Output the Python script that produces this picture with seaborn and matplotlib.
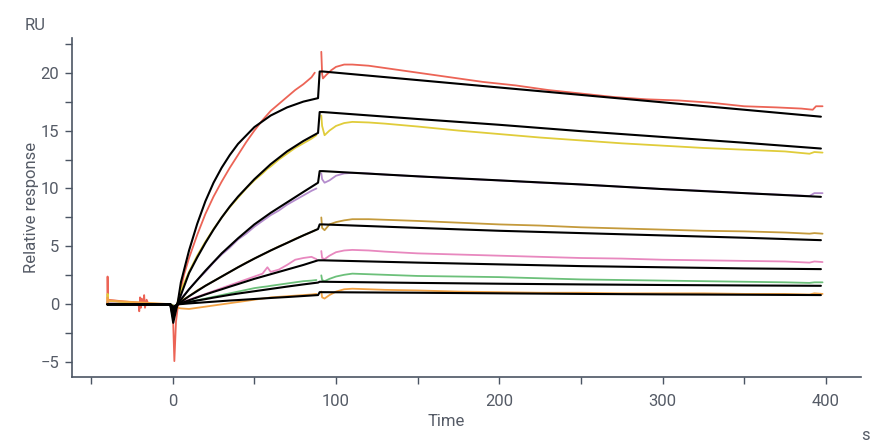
import numpy as np
import pandas as pd
import matplotlib
matplotlib.use("Agg")
import matplotlib.pyplot as plt
from matplotlib.ticker import MultipleLocator, FixedLocator
import seaborn as sns

# measured curves (time in s, response in RU); NaN marks the break at end of injection
t_red = [-40, -39.9, -39.7, -30, -21, -20.5, -20, -19.5, -19, -18, -17.5, -17, -16, -15, -10,
         -2, 0, 1, 2, 4, 7, 10, 15, 20, 25, 30, 35, 40, 45, 50, 55, 60, 65, 70, 75, 80, 85, 87,
         89, 91, 91.5, 92, 94, 97, 100, 105, 110, 120, 130, 150, 170, 190, 210, 230, 250, 270,
         290, 310, 330, 350, 370, 385, 392, 394, 398]
red = [0, 2.4, 0.4, 0.25, 0.15, -0.6, 0.6, -0.3, 0.5, 0.1, 0.8, -0.3, 0.4, 0.05, 0.0,
       0.0, -0.3, -4.9, -1.5, 0.8, 2.6, 4.0, 6.0, 7.8, 9.3, 10.6, 11.8, 12.9, 14.0, 15.0, 15.9,
       16.7, 17.3, 17.9, 18.5, 19.0, 19.6, 20.0,
       np.nan, 21.8, 19.9, 19.5, 19.8, 20.2, 20.5, 20.7, 20.7, 20.6, 20.4, 20.0, 19.6, 19.2,
       18.9, 18.5, 18.2, 17.9, 17.7, 17.6, 17.4, 17.1, 17.0, 16.9, 16.8, 17.1, 17.1]

t_data = [-40, -39.9, -39.7, -30, -2, 0, 1, 3, 5, 10,
          15, 20, 25, 30, 35, 40, 45, 50, 55, 58,
          60, 65, 70, 75, 80, 85, 88, 89, 91, 91.5,
          93, 96, 100, 105, 110, 120, 130, 150, 175, 200,
          225, 250, 275, 300, 325, 350, 375, 390, 393, 398]
yellow = [0, 0.9, 0.3, 0.15, 0, -0.2, -0.8, 0.2, 1.2, 2.8,
          4.2, 5.4, 6.5, 7.5, 8.4, 9.2, 10.0, 10.7, 11.3, 11.7,
          11.9, 12.5, 13.0, 13.5, 13.9, 14.3, 14.6, np.nan, 16.3, 15.4,
          14.6, 15.0, 15.4, 15.65, 15.75, 15.7, 15.6, 15.35, 15.0, 14.7,
          14.4, 14.15, 13.9, 13.7, 13.5, 13.35, 13.2, 13.0, 13.15, 13.1]
purple = [0, 0.3, 0.1, 0.05, 0, -0.1, -0.5, 0.1, 0.5, 1.3,
          2.1, 2.8, 3.6, 4.3, 4.9, 5.6, 6.1, 6.7, 7.2, 7.5,
          7.7, 8.1, 8.6, 9.0, 9.4, 9.8, 10.0, np.nan, 11.3, 10.8,
          10.5, 10.7, 11.1, 11.3, 11.35, 11.3, 11.2, 11.05, 10.85, 10.7,
          10.5, 10.35, 10.15, 9.95, 9.8, 9.6, 9.45, 9.35, 9.6, 9.6]
olive = [0, 0.2, 0.05, 0.02, 0, -0.1, -0.3, 0.05, 0.3, 0.7,
         1.2, 1.6, 2.0, 2.4, 2.8, 3.2, 3.6, 3.95, 4.3, 4.5,
         4.65, 5.0, 5.3, 5.65, 5.95, 6.25, 6.45, np.nan, 7.5, 6.6,
         6.4, 6.9, 7.1, 7.25, 7.35, 7.35, 7.3, 7.2, 7.05, 6.9,
         6.8, 6.65, 6.55, 6.45, 6.35, 6.3, 6.2, 6.1, 6.15, 6.1]
pink = [0, 0.1, 0.05, 0, 0, -0.1, -0.3, 0, 0.15, 0.4,
        0.65, 0.9, 1.15, 1.4, 1.65, 1.9, 2.15, 2.4, 2.65, 3.2,
        2.8, 3.0, 3.4, 3.85, 4.0, 4.1, 3.9, np.nan, 4.6, 4.0,
        3.9, 4.2, 4.5, 4.65, 4.7, 4.65, 4.55, 4.4, 4.3, 4.2,
        4.1, 4.0, 3.95, 3.85, 3.8, 3.75, 3.7, 3.6, 3.7, 3.65]
green = [0, 0.05, 0, 0, 0, -0.05, -0.2, 0, 0.05, 0.2,
         0.35, 0.5, 0.65, 0.8, 0.95, 1.1, 1.25, 1.4, 1.5, 1.55,
         1.6, 1.7, 1.8, 1.9, 2.0, 2.05, 2.1, np.nan, 2.5, 2.1,
         2.0, 2.2, 2.4, 2.55, 2.65, 2.6, 2.55, 2.45, 2.4, 2.35,
         2.25, 2.15, 2.1, 2.05, 2.0, 1.95, 1.9, 1.85, 1.9, 1.9]
orange = [0, 0.6, 0.35, 0.25, 0.02, -0.1, -0.3, -0.3, -0.35, -0.4,
          -0.3, -0.2, -0.1, 0.0, 0.1, 0.2, 0.3, 0.4, 0.5, 0.55,
          0.6, 0.65, 0.7, 0.75, 0.8, 0.85, 0.9, np.nan, 1.1, 0.6,
          0.5, 0.8, 1.1, 1.3, 1.35, 1.3, 1.25, 1.2, 1.1, 1.05,
          1.0, 1.0, 0.95, 0.95, 0.95, 0.9, 0.9, 0.85, 0.95, 0.9]

# fitted curves (black)
t_fit = [-40, -1.5, 0.3, 3, 5, 10, 15, 20, 25, 30, 35, 40, 50, 60, 70, 80, 89, 90, 92,
         150, 200, 250, 300, 350, 397]
fit1 = [0, 0, -1.6, 0.1, 1.9, 4.65, 6.95, 8.9, 10.5, 11.8, 12.9, 13.85, 15.3, 16.3, 17.0,
        17.5, 17.8, 20.1, 20.1, 19.36, 18.72, 18.08, 17.44, 16.8, 16.2]
fit2 = [0, 0, -1.2, 0.1, 0.8, 2.7, 4.05, 5.3, 6.45, 7.5, 8.45, 9.3, 10.8, 12.1, 13.2,
        14.1, 14.8, 16.6, 16.6, 16.0, 15.5, 14.95, 14.45, 13.95, 13.45]
fit3 = [0, 0, -0.9, 0.05, 0.4, 1.3, 2.1, 2.9, 3.65, 4.4, 5.05, 5.7, 6.9, 7.9, 8.8,
        9.7, 10.5, 11.5, 11.5, 11.05, 10.7, 10.35, 9.95, 9.6, 9.28]
fit4 = [0, 0, -0.6, 0, 0.2, 0.7, 1.15, 1.6, 2.0, 2.4, 2.8, 3.2, 3.95, 4.65, 5.3,
        5.95, 6.5, 6.9, 6.9, 6.6, 6.35, 6.15, 5.95, 5.75, 5.54]
fit5 = [0, 0, -0.4, 0, 0.1, 0.35, 0.6, 0.85, 1.08, 1.3, 1.53, 1.75, 2.2, 2.6, 3.0,
        3.4, 3.8, 3.8, 3.8, 3.6, 3.45, 3.3, 3.2, 3.1, 3.04]
fit6 = [0, 0, -0.3, 0, 0.05, 0.2, 0.33, 0.45, 0.58, 0.7, 0.82, 0.93, 1.13, 1.33, 1.53,
        1.72, 1.88, 1.95, 1.95, 1.85, 1.78, 1.72, 1.67, 1.63, 1.6]
fit7 = [0, 0, -0.2, 0, 0.02, 0.08, 0.13, 0.18, 0.23, 0.28, 0.33, 0.37, 0.46, 0.55, 0.63,
        0.72, 0.8, 1.05, 1.05, 1.0, 0.95, 0.9, 0.86, 0.83, 0.8]

series_names = ["red", "yellow", "purple", "olive", "pink", "green", "orange"]
series_colors = ["#ec6456", "#e0cc3a", "#b48ccd", "#c49a3c", "#e888bf", "#6cc07a", "#f2a244"]

# long table, split into parts at the NaN break
frames = []
for name, t, y in zip(series_names,
                      [t_red] + [t_data] * 6,
                      [red, yellow, purple, olive, pink, green, orange]):
    d = pd.DataFrame({"t": t, "ru": y, "series": name})
    d["part"] = d["ru"].isna().cumsum()
    frames.append(d.dropna())
data = pd.concat(frames, ignore_index=True)

fits = pd.concat([pd.DataFrame({"t": t_fit, "ru": f, "fit": i})
                  for i, f in enumerate([fit1, fit2, fit3, fit4, fit5, fit6, fit7])],
                 ignore_index=True)

sns.set_style("white")
plt.rcParams["font.family"] = ["Roboto", "DejaVu Sans"]

fig = plt.figure(figsize=(8.92, 4.46), dpi=100)
ax = fig.add_axes([0.0807, 0.154, 0.885, 0.761])

sns.lineplot(data=data, x="t", y="ru", hue="series", units="part", estimator=None,
             palette=dict(zip(series_names, series_colors)), hue_order=series_names,
             sort=False, lw=1.3, legend=False, ax=ax)
sns.lineplot(data=fits, x="t", y="ru", units="fit", estimator=None, color="black",
             sort=False, lw=1.5, ax=ax)

axis_col = "#4b5563"
txt_col = "#555b66"
ax.set_xlim(-61.7, 421.8)
ax.set_ylim(-6.3, 23)
ax.xaxis.set_major_locator(FixedLocator([0, 100, 200, 300, 400]))
ax.xaxis.set_minor_locator(FixedLocator([-50, 50, 150, 250, 350]))
ax.yaxis.set_major_locator(MultipleLocator(5))
ax.yaxis.set_minor_locator(MultipleLocator(2.5))
ax.tick_params(axis="both", which="both", direction="out", length=5, width=1,
               color=axis_col, labelcolor=txt_col, labelsize=12)
ax.tick_params(axis="x", which="both", bottom=True, pad=7)
ax.tick_params(axis="y", which="both", left=True, pad=4)
for side in ["top", "right"]:
    ax.spines[side].set_visible(False)
for side in ["left", "bottom"]:
    ax.spines[side].set_color(axis_col)
    ax.spines[side].set_linewidth(1.2)

ax.set_xlabel("")
ax.set_ylabel("")
fig.text(32 / 892, 1 - 207 / 446, "Relative response", rotation=90, ha="center",
         va="center", fontsize=12, color=txt_col)
fig.text(35 / 892, 1 - 25 / 446, "RU", ha="center", va="center", fontsize=12,
         color=txt_col)
fig.text(446 / 892, 1 - 421 / 446, "Time", ha="center", va="center", fontsize=12,
         color=txt_col)
fig.text(866 / 892, 1 - 435 / 446, "s", ha="center", va="center", fontsize=12,
         color=txt_col)

fig.savefig("out.png", dpi=100)
